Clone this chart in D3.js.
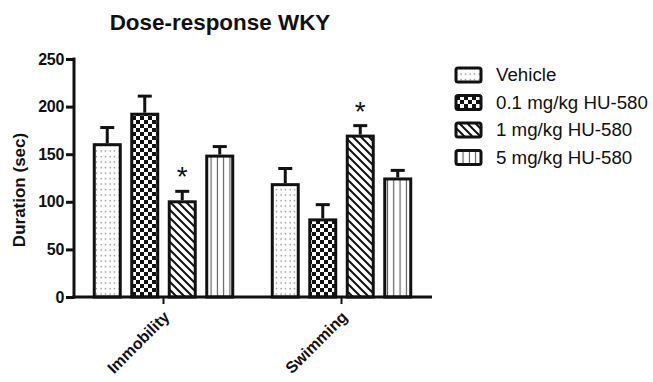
<!DOCTYPE html>
<html>
<head>
<meta charset="utf-8">
<script src="https://cdn.jsdelivr.net/npm/d3@7"></script>
<style>
  html, body { margin: 0; padding: 0; background: #fff; }
  svg { display: block; font-family: Arial, "Liberation Sans", sans-serif; }
</style>
</head>
<body>
<svg id="chart" width="653" height="382"></svg>
<script>
// Behaviour categories on the x axis
const categories = ["Immobility", "Swimming"];
// Treatment groups (legend order)
const groups = ["Vehicle", "0.1 mg/kg HU-580", "1 mg/kg HU-580", "5 mg/kg HU-580"];
// Mean duration (sec) per group, one value per category
const vehicleMean = [160, 118];
const dose01Mean  = [192, 81];
const dose1Mean   = [100, 169];
const dose5Mean   = [148, 124];
// Standard error of the mean per group
const vehicleSem = [18, 17];
const dose01Sem  = [19, 16];
const dose1Sem   = [11, 11];
const dose5Sem   = [10, 9];
// Significance markers (group index, category index)
const significant = [[2, 0], [2, 1]];
// Y axis ticks
const yTicks = [0, 50, 100, 150, 200, 250];

const means = [vehicleMean, dose01Mean, dose1Mean, dose5Mean];
const sems = [vehicleSem, dose01Sem, dose1Sem, dose5Sem];

const rows = [];
categories.forEach((c, ci) => {
  groups.forEach((g, gi) => {
    rows.push({ cat: c, group: g, gi, ci, mean: means[gi][ci], sem: sems[gi][ci] });
  });
});

const svg = d3.select("#chart");
const defs = svg.append("defs");

// Fill patterns for the four groups
const pDots = defs.append("pattern").attr("id", "pat0")
  .attr("patternUnits", "userSpaceOnUse").attr("width", 4.5).attr("height", 5.5);
pDots.append("rect").attr("width", 4.5).attr("height", 5.5).attr("fill", "#fff");
pDots.append("rect").attr("x", 1.5).attr("y", 2).attr("width", 1.2).attr("height", 1.2).attr("fill", "#666");

const pCheck = defs.append("pattern").attr("id", "pat1")
  .attr("patternUnits", "userSpaceOnUse").attr("width", 8).attr("height", 8);
pCheck.append("rect").attr("width", 8).attr("height", 8).attr("fill", "#fff");
pCheck.append("rect").attr("width", 4).attr("height", 4).attr("fill", "#111");
pCheck.append("rect").attr("x", 4).attr("y", 4).attr("width", 4).attr("height", 4).attr("fill", "#111");

const pDiag = defs.append("pattern").attr("id", "pat2")
  .attr("patternUnits", "userSpaceOnUse").attr("width", 8).attr("height", 8);
pDiag.append("rect").attr("width", 8).attr("height", 8).attr("fill", "#fff");
pDiag.append("path").attr("d", "M-1,-1 L9,9 M-1,7 L1,9 M7,-1 L9,1")
  .attr("stroke", "#111").attr("stroke-width", 2);

const pVert = defs.append("pattern").attr("id", "pat3")
  .attr("patternUnits", "userSpaceOnUse").attr("width", 6.3).attr("height", 6);
pVert.append("rect").attr("width", 6.3).attr("height", 6).attr("fill", "#fff");
pVert.append("rect").attr("x", 2.6).attr("y", 0).attr("width", 1.1).attr("height", 6).attr("fill", "#555");

const fills = ["url(#pat0)", "url(#pat1)", "url(#pat2)", "url(#pat3)"];

// Scales
const x0 = d3.scaleBand().domain(categories).range([74.5, 430.5]);
const x1 = d3.scaleBand().domain(groups).range([0, x0.bandwidth()])
  .paddingInner(0.307).paddingOuter(0.527);
const y = d3.scaleLinear().domain([0, 250]).range([297, 59]);

// Title
svg.append("text")
  .attr("x", 220).attr("y", 30)
  .attr("text-anchor", "middle")
  .attr("font-size", 22).attr("font-weight", "bold").attr("fill", "#111")
  .attr("transform", "translate(220,0) scale(1.02,1) translate(-220,0)")
  .text("Dose-response WKY");

// Y axis label
svg.append("text")
  .attr("transform", "translate(25,190) rotate(-90)")
  .attr("text-anchor", "middle")
  .attr("font-size", 17).attr("font-weight", "bold").attr("fill", "#111")
  .text("Duration (sec)");

// Bars
const bars = svg.append("g");
bars.selectAll("rect").data(rows).enter().append("rect")
  .attr("x", d => x0(d.cat) + x1(d.group))
  .attr("y", d => y(d.mean))
  .attr("width", x1.bandwidth())
  .attr("height", d => y(0) - y(d.mean))
  .attr("fill", d => fills[d.gi])
  .attr("stroke", "#111").attr("stroke-width", 3);

// Upper error bars
const err = svg.append("g").attr("stroke", "#111").attr("stroke-width", 3);
rows.forEach(d => {
  const cx = x0(d.cat) + x1(d.group) + x1.bandwidth() / 2;
  err.append("line").attr("x1", cx).attr("x2", cx)
    .attr("y1", y(d.mean) - 1.5).attr("y2", y(d.mean + d.sem));
  err.append("line").attr("x1", cx - 7).attr("x2", cx + 7)
    .attr("y1", y(d.mean + d.sem)).attr("y2", y(d.mean + d.sem));
});

// Significance asterisks
significant.forEach(([gi, ci]) => {
  const cx = x0(categories[ci]) + x1(groups[gi]) + x1.bandwidth() / 2;
  const top = means[gi][ci] + sems[gi][ci];
  svg.append("text")
    .attr("x", cx).attr("y", y(top) - 5)
    .attr("text-anchor", "middle")
    .attr("font-size", 28).attr("fill", "#111")
    .text("*");
});

// Y axis
const yAxis = svg.append("g").attr("transform", "translate(74,0)")
  .call(d3.axisLeft(y).tickValues(yTicks).tickSize(8).tickPadding(2).tickSizeOuter(0));
yAxis.select(".domain").attr("stroke", "#111").attr("stroke-width", 3)
  .attr("d", `M0,${y(250) - 1.5}V${y(0) + 1.5}`);
yAxis.selectAll(".tick line").attr("stroke", "#111").attr("stroke-width", 3);
yAxis.selectAll(".tick text").attr("font-size", 16).attr("font-weight", "bold")
  .attr("fill", "#111").attr("font-family", "Arial, 'Liberation Sans', sans-serif")
  .attr("letter-spacing", -0.3);

// X axis
const xAxis = svg.append("g").attr("transform", `translate(0,${y(0)})`)
  .call(d3.axisBottom(x0).tickSize(7).tickSizeOuter(0).tickPadding(0));
xAxis.select(".domain").attr("stroke", "#111").attr("stroke-width", 3)
  .attr("d", "M72.5,0H432");
xAxis.selectAll(".tick line").attr("stroke", "#111").attr("stroke-width", 2);
xAxis.selectAll(".tick text")
  .attr("font-size", 16).attr("font-weight", "bold").attr("fill", "#111")
  .attr("font-family", "Arial, 'Liberation Sans', sans-serif")
  .attr("text-anchor", "end")
  .attr("transform", "translate(3,17) rotate(-45)")
  .attr("dy", "0.35em").attr("y", 0);

// Legend
const legend = svg.append("g");
groups.forEach((g, i) => {
  const cy = 75 + i * 27.5;
  legend.append("rect")
    .attr("x", 456).attr("y", cy - 7).attr("width", 25).attr("height", 14)
    .attr("rx", 2)
    .attr("fill", fills[i]).attr("stroke", "#111").attr("stroke-width", 3);
  legend.append("text")
    .attr("transform", `translate(496,${cy}) scale(1.04,1)`)
    .attr("dy", "0.35em")
    .attr("font-size", 18).attr("fill", "#111")
    .text(g);
});
</script>
</body>
</html>
